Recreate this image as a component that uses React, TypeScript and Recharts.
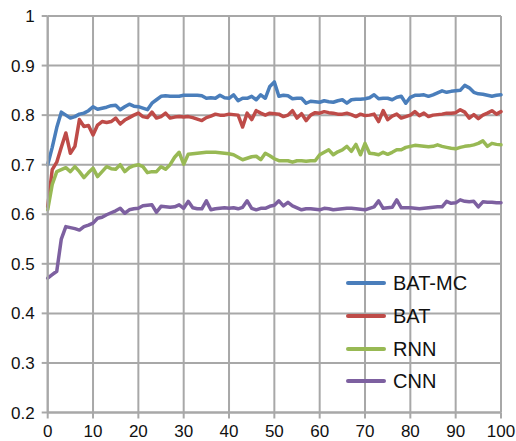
import React from 'react';
import { LineChart, Line, XAxis, YAxis, CartesianGrid, Legend } from 'recharts';

const xTicks = [0, 10, 20, 30, 40, 50, 60, 70, 80, 90, 100];
const yTicks = [0.2, 0.3, 0.4, 0.5, 0.6, 0.7, 0.8, 0.9, 1];

const seriesNames = ['BAT-MC', 'BAT', 'RNN', 'CNN'];
const seriesColors = ['#4a7ebb', '#be4b48', '#98b954', '#7d60a0'];

const batMc = [
  0.70, 0.735, 0.775, 0.806, 0.80, 0.794, 0.797, 0.802, 0.804, 0.809,
  0.817, 0.812, 0.814, 0.816, 0.819, 0.82, 0.811, 0.817, 0.822, 0.818,
  0.817, 0.814, 0.811, 0.824, 0.831, 0.838, 0.839, 0.838, 0.838, 0.838,
  0.84, 0.84, 0.84, 0.84, 0.839, 0.834, 0.835, 0.834, 0.84, 0.835,
  0.834, 0.841, 0.829, 0.834, 0.834, 0.838, 0.831, 0.841, 0.834, 0.858,
  0.867, 0.838, 0.84, 0.839, 0.833, 0.834, 0.834, 0.824, 0.828, 0.827,
  0.826, 0.829, 0.827, 0.826, 0.829, 0.831, 0.824, 0.831, 0.832, 0.832,
  0.833, 0.835, 0.841, 0.833, 0.834, 0.834, 0.831, 0.836, 0.838, 0.824,
  0.836, 0.84, 0.84, 0.841, 0.838, 0.841, 0.845, 0.849, 0.846, 0.848,
  0.849, 0.85, 0.86, 0.855, 0.846, 0.843, 0.842, 0.84, 0.838, 0.84,
  0.841,
];

const bat = [
  0.615, 0.69, 0.705, 0.735, 0.764, 0.723, 0.737, 0.791, 0.777, 0.779,
  0.76, 0.78, 0.787, 0.785, 0.787, 0.794, 0.782, 0.79, 0.795, 0.80,
  0.804, 0.797, 0.795, 0.806, 0.794, 0.797, 0.804, 0.794, 0.796, 0.797,
  0.796, 0.797, 0.795, 0.792, 0.789, 0.795, 0.798, 0.802, 0.80, 0.80,
  0.802, 0.801, 0.80, 0.776, 0.804, 0.791, 0.809, 0.804, 0.80, 0.804,
  0.803, 0.802, 0.797, 0.80, 0.809, 0.794, 0.803, 0.789, 0.80, 0.805,
  0.804, 0.807, 0.805, 0.804, 0.802, 0.802, 0.804, 0.801, 0.797, 0.802,
  0.799, 0.80, 0.802, 0.787, 0.809, 0.791, 0.798, 0.802, 0.794, 0.797,
  0.80, 0.807, 0.799, 0.804, 0.797, 0.80, 0.801, 0.802, 0.804, 0.804,
  0.805, 0.811, 0.806, 0.794, 0.801, 0.793, 0.80, 0.804, 0.809, 0.802,
  0.807,
];

const rnn = [
  0.609, 0.66, 0.686, 0.69, 0.694, 0.686, 0.696, 0.686, 0.674, 0.684,
  0.693, 0.676, 0.686, 0.696, 0.692, 0.691, 0.70, 0.686, 0.694, 0.698,
  0.70, 0.696, 0.684, 0.686, 0.686, 0.696, 0.691, 0.70, 0.715, 0.725,
  0.701, 0.721, 0.722, 0.723, 0.724, 0.725, 0.725, 0.725, 0.724, 0.723,
  0.722, 0.72, 0.715, 0.71, 0.713, 0.716, 0.717, 0.71, 0.723, 0.718,
  0.712, 0.708, 0.708, 0.708, 0.705, 0.708, 0.708, 0.707, 0.708, 0.708,
  0.72, 0.725, 0.73, 0.72, 0.726, 0.73, 0.737, 0.727, 0.741, 0.72,
  0.743, 0.723, 0.722, 0.72, 0.725, 0.721, 0.725, 0.73, 0.73, 0.735,
  0.737, 0.739, 0.738, 0.737, 0.736, 0.737, 0.74, 0.737, 0.735, 0.733,
  0.732, 0.735, 0.737, 0.738, 0.74, 0.743, 0.748, 0.737, 0.743, 0.741,
  0.74,
];

const cnn = [
  0.471, 0.478, 0.485, 0.55, 0.575, 0.573, 0.571, 0.568, 0.575, 0.578,
  0.582, 0.592, 0.594, 0.599, 0.603, 0.607, 0.612, 0.602, 0.609, 0.611,
  0.612, 0.617, 0.618, 0.619, 0.604, 0.616, 0.615, 0.614, 0.615, 0.619,
  0.612, 0.626, 0.613, 0.611, 0.611, 0.627, 0.609, 0.611, 0.612, 0.613,
  0.612, 0.613, 0.611, 0.614, 0.627, 0.612, 0.609, 0.612, 0.612, 0.616,
  0.618, 0.627, 0.617, 0.624, 0.617, 0.613, 0.609, 0.611, 0.611, 0.61,
  0.609, 0.612, 0.611, 0.609, 0.61, 0.611, 0.612, 0.612, 0.611, 0.61,
  0.609, 0.612, 0.615, 0.627, 0.612, 0.613, 0.614, 0.629, 0.613, 0.613,
  0.613, 0.612, 0.611, 0.612, 0.613, 0.614, 0.615, 0.615, 0.626, 0.622,
  0.623, 0.629, 0.626, 0.625, 0.626, 0.615, 0.625, 0.624, 0.624, 0.623,
  0.623,
];

const data = batMc.map((_, i) => ({
  x: i,
  'BAT-MC': batMc[i],
  BAT: bat[i],
  RNN: rnn[i],
  CNN: cnn[i],
}));

const FONT = '"Liberation Sans", Arial, sans-serif';

const LegendBox = () => (
  <div style={{ fontFamily: FONT, fontSize: 20, color: '#111' }}>
    {seriesNames.map((n, i) => (
      <div key={n} style={{ display: 'flex', alignItems: 'center', height: 32.7 }}>
        <div style={{ width: 40, height: 4, background: seriesColors[i], borderRadius: 2, marginRight: 7 }} />
        <span style={{ lineHeight: '20px' }}>{n}</span>
      </div>
    ))}
  </div>
);

export default function App() {
  return (
    <div style={{ position: 'absolute', left: 0, top: 0, width: 516, height: 441, background: '#fff', fontFamily: FONT }}>
      <LineChart
        width={516}
        height={441}
        data={data}
        margin={{ top: 16, right: 15, left: 0, bottom: 0 }}
        style={{ fontFamily: FONT }}
      >
        <CartesianGrid stroke="#a8a8a8" strokeWidth={2} />
        <XAxis
          dataKey="x"
          type="number"
          domain={[0, 100]}
          ticks={xTicks}
          interval={0}
          height={28.5}
          tickSize={6}
          tickMargin={6}
          stroke="#a8a8a8"
          strokeWidth={2}
          tick={{ fill: '#111', fontSize: 17, fontFamily: FONT }}
          tickLine={{ stroke: '#a8a8a8', strokeWidth: 2 }}
        />
        <YAxis
          type="number"
          domain={[0.2, 1]}
          ticks={yTicks}
          interval={0}
          width={47.7}
          tickSize={6}
          tickMargin={7}
          stroke="#a8a8a8"
          strokeWidth={2}
          tickFormatter={(v: number) => String(v)}
          tick={{ fill: '#111', fontSize: 17, fontFamily: FONT }}
          tickLine={{ stroke: '#a8a8a8', strokeWidth: 2 }}
        />
        {seriesNames.map((n, i) => (
          <Line
            key={n}
            type="linear"
            dataKey={n}
            stroke={seriesColors[i]}
            strokeWidth={3.5}
            dot={false}
            activeDot={false}
            strokeLinejoin="round"
            strokeLinecap="round"
            isAnimationActive={false}
          />
        ))}
        <Legend
          layout="vertical"
          align="center"
          verticalAlign="middle"
          wrapperStyle={{ left: 346, top: 267, width: 160 }}
          content={() => <LegendBox />}
        />
      </LineChart>
    </div>
  );
}
